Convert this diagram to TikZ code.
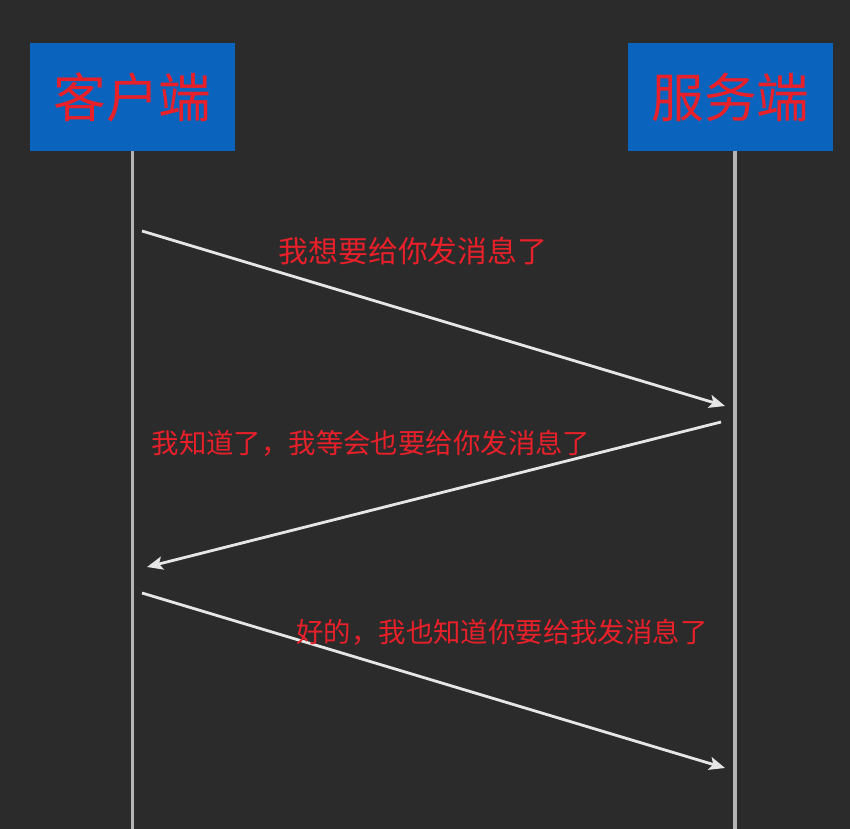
\documentclass[tikz,border=0pt]{standalone}
\usepackage{fontspec}
\newfontfamily\cjk{Noto Sans CJK SC}
\usetikzlibrary{arrows.meta, positioning}

\definecolor{bgdark}{HTML}{2B2B2B}
\definecolor{boxblue}{HTML}{0A64BE}
\definecolor{txtred}{HTML}{E8202A}
\definecolor{lifegray}{HTML}{B4B4B4}
\definecolor{msgwhite}{HTML}{E6E6E6}

\tikzset{
  party/.style = {draw = none, fill = boxblue, minimum width = 205*0.02cm, minimum height = 108*0.02cm,
                  inner sep = 0pt, text = txtred, font = \cjk\fontsize{30}{30}\selectfont},
  lifeline/.style = {lifegray, line width = 2pt},
  msg/.style = {msgwhite, line width = 1.6pt, -{Stealth[length=9pt, width=7.5pt, inset=2pt]}},
  msglabel/.style = {text = txtred, inner sep = 0pt, font = \cjk\fontsize{15.6}{15.6}\selectfont}
}

\begin{document}
\begin{tikzpicture}[x = 0.02cm, y = -0.02cm]
\fill[bgdark] (0,0) rectangle (850,829);
\useasboundingbox (0,0) rectangle (850,829);

\node[party] (client) at (132.5,97) {客户端};
\node[party] (server) at (730.5,97) {服务端};

\coordinate (cbot) at (132.5,829);
\coordinate (sbot) at (735,829);
\draw[lifeline] (client.south) -- (cbot);
\draw[lifeline] (server.south -| sbot) -- (sbot);

% messages
\coordinate (m1a) at (142,231);
\coordinate (m1b) at (725,406);
\coordinate (m2a) at (721,422);
\coordinate (m2b) at (147,567);
\coordinate (m3a) at (142,593);
\coordinate (m3b) at (725,768);
\draw[msg] (m1a) -- (m1b);
\draw[msg] (m2a) -- (m2b);
\draw[msg] (m3a) -- (m3b);

\node[msglabel, font = \cjk\fontsize{17}{17}\selectfont] (l1) at (413,251) {我想要给你发消息了};
\node[msglabel] (l2) at (371,443) {我知道了，我等会也要给你发消息了};
\node[msglabel] (l3) at (502,632) {好的，我也知道你要给我发消息了};
\end{tikzpicture}
\end{document}
